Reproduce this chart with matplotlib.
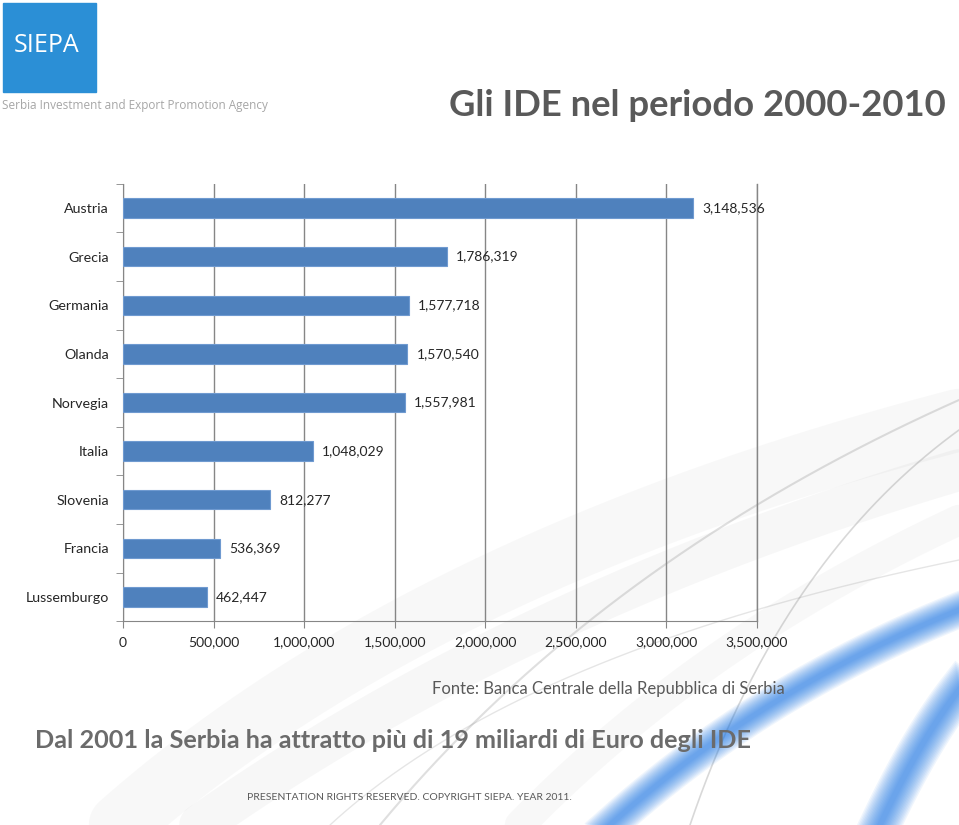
import numpy as np
import matplotlib.pyplot as plt
from matplotlib.ticker import FuncFormatter, MultipleLocator

countries = ["Austria", "Grecia", "Germania", "Olanda", "Norvegia",
             "Italia", "Slovenia", "Francia", "Lussemburgo"]
ide_values = [3148536, 1786319, 1577718, 1570540, 1557981,
              1048029, 812277, 536369, 462447]
x_max = 3500000
x_step = 500000

title = "Gli IDE nel periodo 2000-2010"
agency = "Serbia Investment and Export Promotion Agency"
source = "Fonte: Banca Centrale della Repubblica di Serbia"
headline = "Dal 2001 la Serbia ha attratto più di 19 miliardi di Euro degli IDE"
footer = "PRESENTATION RIGHTS RESERVED. COPYRIGHT SIEPA. YEAR 2011."

plt.rcParams['font.family'] = ['Lato', 'DejaVu Sans']

W, H = 959, 825
fig = plt.figure(figsize=(W / 100, H / 100), dpi=100)
fig.patch.set_facecolor('white')


def bezier(x0, y0, xc, yc, x1, y1, n=200):
    t = np.linspace(0, 1, n)
    xs = (1 - t) ** 2 * x0 + 2 * (1 - t) * t * xc + t ** 2 * x1
    ys = (1 - t) ** 2 * y0 + 2 * (1 - t) * t * yc + t ** 2 * y1
    return xs, ys


# background swooshes (decoration only)
bg = fig.add_axes([0, 0, 1, 1], zorder=0)
bg.set_xlim(0, W)
bg.set_ylim(H, 0)
bg.axis('off')
for (pts, lw, a) in [
        ((120, 825, 420, 560, 959, 420), 45, 0.05),
        ((200, 825, 520, 600, 959, 470), 30, 0.06),
        ((520, 825, 700, 640, 959, 520), 22, 0.05),
        ((380, 825, 600, 560, 959, 400), 1.5, 0.25),
        ((690, 825, 780, 560, 959, 430), 1.2, 0.3),
        ((330, 825, 520, 650, 959, 560), 1.0, 0.2)]:
    xs, ys = bezier(*pts)
    bg.plot(xs, ys, color='#808080', lw=lw, alpha=a, solid_capstyle='round')
# soft blue stripes, bottom right
for (pts, lw_max) in [((610, 825, 760, 690, 959, 610), 26),
                      ((880, 825, 920, 740, 959, 690), 30)]:
    xs, ys = bezier(*pts)
    for k in range(14):
        bg.plot(xs, ys, color='#1e78e6', lw=lw_max * (1 - k / 15), alpha=0.07)

# logo
bg.add_patch(plt.Rectangle((3, 3), 93, 89, color='#2b8fd6'))
bg.text(47, 46, "SIEPA", color='white', fontsize=18, ha='center', va='center',
        family=['Open Sans', 'DejaVu Sans'])
bg.text(2, 105, agency, color='#a6a6a6', fontsize=8.5, ha='left', va='center',
        family=['Open Sans', 'DejaVu Sans'])
bg.text(946, 105, title, color='#595959', fontsize=26.3, fontweight='bold',
        ha='right', va='center')
bg.text(785, 689, source, color='#595959', fontsize=12, ha='right', va='center')
bg.text(35, 741, headline, color='#6b6b6b', fontsize=18.2, fontweight='bold',
        ha='left', va='center')
bg.text(409, 797, footer, color='#595959', fontsize=7.5, ha='center', va='center')

# main chart
ax = fig.add_axes([123 / W, 1 - 621.3 / H, (757 - 123) / W, (621.3 - 183.7) / H],
                  zorder=2)
ax.set_facecolor('none')
pos = np.arange(len(countries))
ax.barh(pos, ide_values, height=0.4, color='#4f81bd', edgecolor='#6f9ad0',
        linewidth=0.8, zorder=3)
for p, v in zip(pos, ide_values):
    ax.text(v + 50000, p, f"{v:,}", va='center', ha='left', fontsize=10,
            color='#262626', zorder=4)

ax.set_ylim(len(countries) - 0.5, -0.5)
ax.set_xlim(0, x_max)
ax.set_yticks(pos)
ax.set_yticklabels(countries, fontsize=10.3, color='#262626')
ax.set_yticks(np.arange(len(countries) + 1) - 0.5, minor=True)
ax.tick_params(axis='y', which='major', length=0, pad=10)
ax.tick_params(axis='y', which='minor', length=5, color='#868686')
ax.xaxis.set_major_locator(MultipleLocator(x_step))
ax.xaxis.set_major_formatter(FuncFormatter(lambda v, _: f"{int(v):,}"))
ax.tick_params(axis='x', length=5, color='#868686', labelsize=10,
               labelcolor='#262626', pad=6)
ax.grid(axis='x', color='#868686', linewidth=1, zorder=1)
ax.axvline(x_max, color='#868686', linewidth=1, zorder=1, clip_on=False)
for s in ['top', 'right']:
    ax.spines[s].set_visible(False)
for s in ['left', 'bottom']:
    ax.spines[s].set_color('#868686')

fig.savefig('out.png', dpi=100)
